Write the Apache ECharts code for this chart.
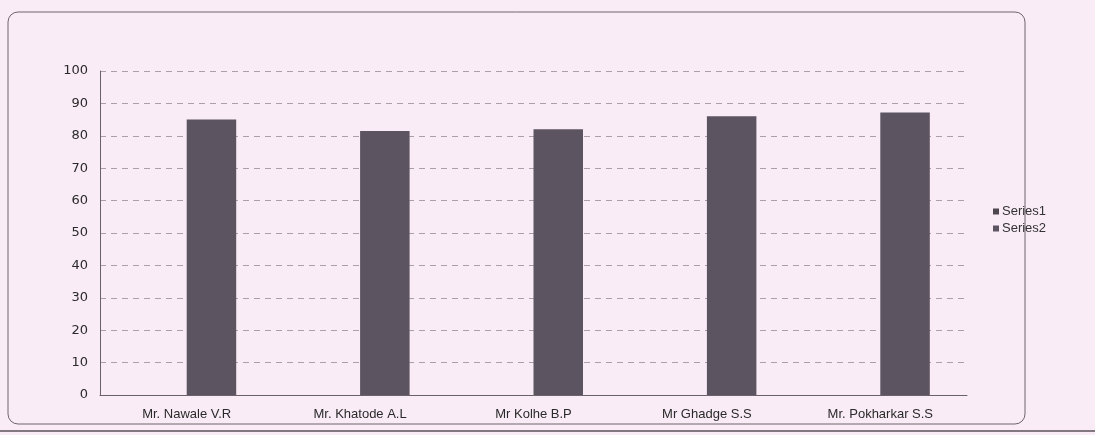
<!DOCTYPE html>
<html><head><meta charset="utf-8">
<script src="https://cdn.jsdelivr.net/npm/echarts@6/dist/echarts.min.js"></script>
<style>html,body{margin:0;padding:0;background:#f9ecf6;}#c{width:1095px;height:435px;}</style>
</head><body><div id="c"></div>
<script>
const categories = ['Mr. Nawale V.R', 'Mr. Khatode A.L', 'Mr Kolhe B.P', 'Mr Ghadge S.S', 'Mr. Pokharkar S.S'];
const series1 = [0, 0, 0, 0, 0];
const series2 = [85, 81.5, 82, 86, 87.2];
const yTicks = [0, 10, 20, 30, 40, 50, 60, 70, 80, 90, 100];

const chart = echarts.init(document.getElementById('c'));
chart.setOption({
  backgroundColor: '#f9ecf6',
  animation: false,
  textStyle: { fontFamily: 'Liberation Sans, Arial, sans-serif' },
  graphic: [
    { type: 'rect', shape: { x: 8, y: 12, width: 1017, height: 412, r: 10 },
      style: { fill: 'none', stroke: '#6e646c', lineWidth: 1 } },
    { type: 'line', shape: { x1: 0, y1: 431, x2: 1095, y2: 431 },
      style: { stroke: '#5a525a', lineWidth: 1.5 } }
  ],
  grid: { left: 100, right: 128, top: 71, bottom: 40 },
  legend: {
    orient: 'vertical', left: 988, top: 200,
    itemWidth: 6, itemHeight: 6, itemGap: 4,
    icon: 'rect',
    textStyle: { fontSize: 13, color: '#333', padding: [0, 0, 0, -2] },
    data: ['Series1', 'Series2']
  },
  xAxis: {
    type: 'category', data: categories,
    axisLine: { lineStyle: { color: '#6a626a' } },
    axisTick: { show: false },
    axisLabel: { fontSize: 13, color: '#2a2a2a', margin: 13, interval: 0 },
    splitLine: { show: false }
  },
  yAxis: {
    type: 'value', min: 0, max: 100, interval: 10,
    axisLine: { show: true, lineStyle: { color: '#6a626a' } },
    axisTick: { show: false },
    axisLabel: { fontSize: 13, color: '#2a2a2a', margin: 12, fontFamily: 'DejaVu Sans',
      formatter: v => yTicks.includes(v) ? String(v) : '' },
    splitLine: { lineStyle: { color: '#a9a0a8', type: [6, 5], width: 1 } }
  },
  series: [
    { name: 'Series1', type: 'bar', data: series1, barWidth: 49.5, barGap: '0%',
      itemStyle: { color: '#4f474f' } },
    { name: 'Series2', type: 'bar', data: series2, barWidth: 49.5, barGap: '0%',
      itemStyle: { color: '#5c5460' } }
  ]
});
</script></body></html>
